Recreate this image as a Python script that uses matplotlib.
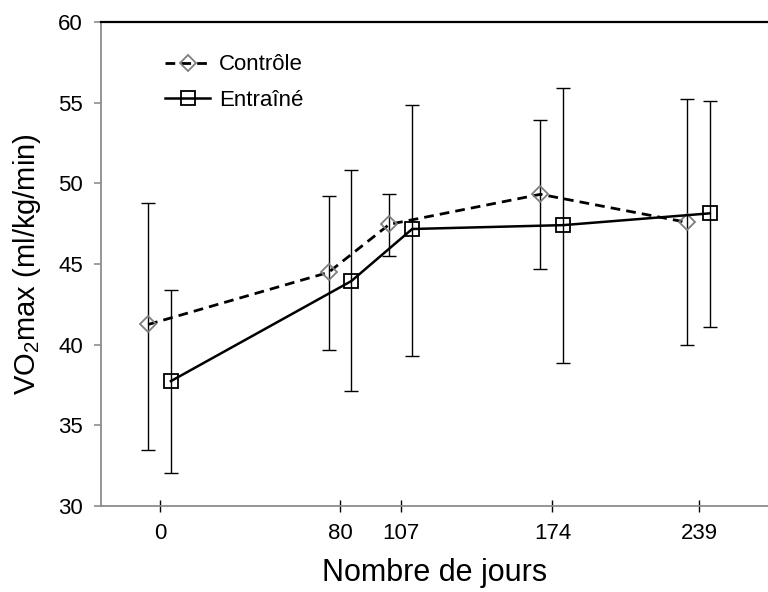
import matplotlib
matplotlib.use("Agg")
import matplotlib.pyplot as plt

plt.rcParams["font.family"] = ["Liberation Sans", "DejaVu Sans"]
plt.rcParams["mathtext.fontset"] = "custom"
plt.rcParams["mathtext.rm"] = "Liberation Sans"
plt.rcParams["mathtext.it"] = "Liberation Sans"

# days of measurement and x tick labels
days = [0, 80, 107, 174, 239]
tick_labels = ["0", "80", "107", "174", "239"]

# control group
ctrl_mean = [41.25, 44.48, 47.46, 49.32, 47.58]
ctrl_low = [33.45, 39.66, 45.51, 44.66, 39.95]
ctrl_high = [48.8, 49.23, 49.36, 53.95, 55.21]

# trained group
train_mean = [37.74, 43.94, 47.17, 47.41, 48.14]
train_low = [32.05, 37.12, 39.31, 38.87, 41.1]
train_high = [43.38, 50.83, 54.84, 55.89, 55.1]

ctrl_shift = -5.3
train_shift = 4.8

fig = plt.figure(figsize=(7.68, 5.92), dpi=100)
ax = fig.add_axes([0.1315, 0.1453, 0.8685, 0.8175])

xc = [d + ctrl_shift for d in days]
xt = [d + train_shift for d in days]

ce = [[m - lo for m, lo in zip(ctrl_mean, ctrl_low)],
      [hi - m for m, hi in zip(ctrl_mean, ctrl_high)]]
te = [[m - lo for m, lo in zip(train_mean, train_low)],
      [hi - m for m, hi in zip(train_mean, train_high)]]

ax.errorbar(xc, ctrl_mean, yerr=ce, fmt="none", ecolor="black",
            elinewidth=1.0, capsize=5, capthick=1.0, zorder=3)
ax.errorbar(xt, train_mean, yerr=te, fmt="none", ecolor="black",
            elinewidth=1.0, capsize=5, capthick=1.0, zorder=3)

ax.plot(xc, ctrl_mean, color="black", lw=2.0, linestyle=(0, (3.5, 2.2)),
        marker="D", ms=8, mfc="none", mec="#7f7f7f", mew=1.3,
        label="Contrôle", zorder=4)
ax.plot(xt, train_mean, color="black", lw=1.8, linestyle="-",
        marker="s", ms=9.5, mfc="none", mec="black", mew=1.3,
        label="Entraîné", zorder=4)

ax.set_xlim(-26.2, 269.6)
ax.set_ylim(30, 60)
ax.set_yticks([30, 35, 40, 45, 50, 55, 60])
ax.set_xticks(days)
ax.set_xticklabels(tick_labels)

for s in ["left", "bottom"]:
    ax.spines[s].set_color("#8c8c8c")
    ax.spines[s].set_linewidth(1.3)
ax.spines["top"].set_color("black")
ax.spines["top"].set_linewidth(1.6)
ax.spines["right"].set_visible(False)

ax.tick_params(axis="y", direction="out", length=5, width=1.2,
               color="#8c8c8c", labelsize=16, pad=8)
ax.tick_params(axis="x", direction="inout", length=9, width=1.0,
               color="black", labelsize=16, pad=8)

ax.set_ylabel(r"VO$_{\rm 2}$max (ml/kg/min)", fontsize=21, labelpad=11)
ax.set_xlabel("Nombre de jours", fontsize=22, labelpad=10)

ax.legend(loc="upper left", bbox_to_anchor=(0.07, 0.97), frameon=False,
          fontsize=16, handlelength=2.0, handletextpad=0.4,
          labelspacing=0.65, borderpad=0.3)

fig.savefig("out.png", dpi=100)
